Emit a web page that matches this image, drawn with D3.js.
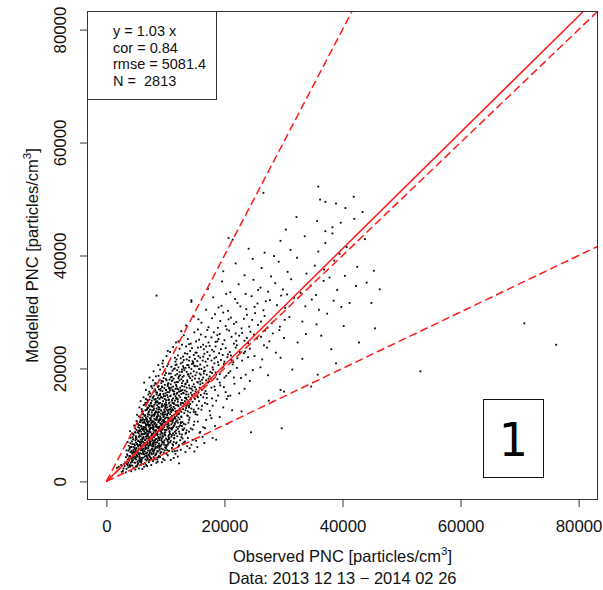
<!DOCTYPE html>
<html>
<head>
<meta charset="utf-8">
<script src="https://cdn.jsdelivr.net/npm/d3@7"></script>
<style>
  html, body { margin: 0; padding: 0; background: #fff; }
  svg { display: block; font-family: 'Liberation Sans', Arial, sans-serif; }
</style>
</head>
<body>
<div id="dataviz_pnc"></div>
<script>

// ━━━━━━━━━━━━━━━━━━━━━━━━━━━━━━━━━━━━━━━━━━━━━━━━━━━━━━━━━━━━━━━━━━━━━━━━━━━━━━
// Data /////////////////////////////////////////////////////////////////////////
// ━━━━━━━━━━━━━━━━━━━━━━━━━━━━━━━━━━━━━━━━━━━━━━━━━━━━━━━━━━━━━━━━━━━━━━━━━━━━━━

const xTicks = [0, 20000, 40000, 60000, 80000];
const yTicks = [0, 20000, 40000, 60000, 80000];

const fitSlope  = 1.03;            // solid line
const refSlopes = [2, 1, 0.5];     // dashed lines (2:1, 1:1, 1:2)

const statLines = ['y = 1.03 x', 'cor = 0.84', 'rmse = 5081.4', 'N =  2813'];
const panelLabel = '1';
const subtitle = 'Data: 2013 12 13 \u2212 2014 02 26';

// [observed, modelled] in thousands of particles/cm3
const points = [
  [2.1,2.6],[2.8,1.9],[3.4,2.2],[3.9,2.9],[4.6,2.4],[5.2,2.8],[3.1,2.7],[4.2,1.8],[5.8,2.9],[6.4,2.6],
  [2.5,2.9],[3.7,2.5],[4.9,2.1],[6.9,2.7],[3.3,1.6],[4.4,2.8],[5.5,2.3],[2.9,2.3],[7.6,2.9],[4.0,2.6],
  [1.8,2.4],[3.6,2.9],[5.1,2.6],[6.1,2.2],[2.6,1.7],

  [3.2,3.4],[3.8,4.1],[4.3,3.6],[4.7,4.4],[5.1,3.9],[5.6,4.7],[6.2,4.2],[6.8,3.7],[7.3,4.5],[4.1,5.2],
  [4.6,5.6],[5.3,5.1],[5.9,5.8],[6.5,5.3],[7.1,5.9],[7.8,5.4],[8.4,4.8],[9.1,4.3],[9.7,5.1],[10.4,4.6],
  [3.5,4.8],[3.9,5.7],[4.4,4.9],[5.0,4.3],[5.4,5.5],[6.0,4.9],[6.6,5.7],[7.0,4.1],[7.6,5.0],[8.1,5.6],
  [3.6,3.9],[4.9,3.3],[5.7,3.5],[6.3,3.1],[7.9,3.6],[8.6,3.9],[9.4,3.4],[10.9,3.8],[11.7,4.9],[12.6,5.6],
  [4.0,4.5],[4.5,3.8],[5.2,4.6],[5.8,4.0],[6.1,5.5],[6.7,4.6],[7.4,5.5],[8.0,4.3],[8.8,5.3],[9.3,5.8],
  [4.8,5.9],[5.5,3.7],[6.4,4.8],[6.9,5.1],[7.2,3.4],[7.7,4.8],[8.3,5.9],[8.9,4.5],[9.9,5.5],[13.4,5.2],
  [3.3,4.3],[4.2,4.0],[4.7,5.1],[5.1,5.9],[5.6,4.1],[6.2,5.2],[6.6,3.9],[7.3,4.9],[8.2,3.9],[10.1,5.9],
  [3.0,3.1],[3.7,3.3],[4.3,5.4],[5.3,4.4],[5.9,3.3],[6.5,4.4],[7.5,4.0],[8.5,5.0],[9.6,4.0],[11.2,5.3],
  [4.1,3.3],[4.6,4.7],[5.0,5.4],[5.7,5.0],[6.0,3.8],[6.8,5.9],[7.1,4.7],[7.8,5.8],[8.7,3.5],[12.1,4.4],
  [3.4,5.5],[4.4,4.2],[5.4,3.2],[6.3,5.8],[6.9,4.3],[7.4,3.8],[8.0,5.2],[9.0,5.6],[10.6,5.4],[14.1,5.9],

  [3.8,6.3],[4.3,7.1],[4.7,6.6],[5.1,7.8],[5.4,6.2],[5.8,7.4],[6.1,8.3],[6.4,6.8],[6.8,7.6],[7.2,8.8],
  [7.5,6.4],[7.9,7.2],[8.2,8.1],[8.6,6.9],[9.0,7.7],[9.4,8.6],[9.8,6.5],[10.3,7.4],[10.8,8.4],[11.4,7.0],
  [4.5,8.4],[5.0,6.9],[5.3,8.7],[5.7,6.5],[6.0,7.1],[6.3,7.9],[6.7,8.6],[7.0,6.7],[7.3,7.8],[7.7,8.4],
  [8.0,6.2],[8.4,7.5],[8.8,8.9],[9.2,6.3],[9.6,7.9],[10.0,8.7],[10.5,6.8],[11.0,7.9],[11.8,8.5],[12.5,7.3],
  [4.1,7.7],[4.9,7.3],[5.5,7.9],[5.9,8.8],[6.2,6.4],[6.6,7.3],[6.9,8.1],[7.4,7.1],[7.8,6.6],[8.1,7.8],
  [8.5,8.5],[8.9,6.7],[9.3,7.3],[9.9,8.2],[10.6,7.7],[11.2,6.6],[12.0,8.0],[13.1,6.9],[13.8,7.7],[15.2,7.2],
  [4.6,6.1],[5.2,6.6],[5.6,8.2],[6.0,6.0],[6.5,8.4],[6.9,7.0],[7.1,6.2],[7.6,8.1],[8.3,6.5],[8.7,7.2],
  [9.1,8.3],[9.5,7.0],[10.2,6.2],[10.9,7.2],[11.6,8.8],[12.3,6.4],[13.5,8.6],[14.4,6.5],[16.3,7.9],[4.0,8.9],
  [5.0,8.0],[5.4,7.2],[5.9,6.7],[6.3,7.6],[6.6,6.3],[7.0,8.4],[7.3,6.9],[7.7,7.6],[8.0,8.7],[8.4,6.1],
  [8.8,7.9],[9.2,8.8],[9.7,6.9],[10.1,7.6],[10.7,8.9],[11.5,7.6],[12.8,8.3],[14.0,8.8],[4.4,6.6],[4.8,8.7],
  [5.3,6.4],[5.7,7.0],[6.1,7.7],[6.4,8.9],[6.8,6.6],[7.2,7.4],[7.5,8.7],[7.9,6.8],[8.2,7.3],[8.6,8.2],
  [9.0,6.4],[9.4,7.6],[9.8,8.4],[10.4,6.5],[11.1,8.2],[11.9,6.9],[12.9,7.6],[3.6,7.0],[4.2,6.1],[15.8,8.6],
  [5.1,7.5],[5.8,8.0],[6.2,7.0],[6.7,7.9],[7.1,8.0],[7.4,6.5],[7.8,7.3],[8.3,8.3],[8.7,6.0],[9.5,8.1],

  [4.9,9.4],[5.3,10.2],[5.7,9.1],[6.0,10.8],[6.4,9.6],[6.7,11.3],[7.1,10.1],[7.4,9.3],[7.8,10.7],[8.1,11.6],
  [8.5,9.8],[8.8,10.5],[9.2,11.2],[9.5,9.2],[9.9,10.0],[10.3,11.7],[10.7,9.5],[11.2,10.4],[11.7,11.1],[12.3,9.7],
  [5.5,11.5],[5.9,9.8],[6.2,11.0],[6.6,10.3],[6.9,9.0],[7.3,11.8],[7.6,10.4],[8.0,9.5],[8.3,10.9],[8.7,11.9],
  [9.0,9.7],[9.4,10.6],[9.7,11.5],[10.1,9.1],[10.5,10.3],[11.0,11.4],[11.5,9.9],[12.0,10.8],[12.7,11.5],[13.4,10.1],
  [5.1,10.7],[5.6,9.5],[6.1,10.4],[6.5,11.7],[6.8,9.9],[7.2,10.6],[7.5,11.2],[7.9,9.2],[8.2,10.2],[8.6,11.3],
  [8.9,9.4],[9.3,10.1],[9.6,10.9],[10.0,11.9],[10.4,9.6],[10.9,10.7],[11.4,11.8],[12.1,9.3],[12.9,10.5],[14.1,11.3],
  [5.4,9.0],[5.8,10.9],[6.3,9.3],[6.7,10.0],[7.0,11.5],[7.4,10.0],[7.7,11.7],[8.0,10.6],[8.4,9.1],[8.8,11.6],
  [9.1,10.3],[9.5,11.8],[9.8,9.6],[10.2,10.5],[10.6,11.2],[11.1,9.2],[11.6,10.2],[12.4,11.0],[13.2,9.4],[14.8,10.0],
  [6.0,9.4],[6.4,10.6],[6.9,11.0],[7.2,9.7],[7.6,9.5],[8.1,11.1],[8.5,10.1],[8.9,10.8],[9.3,9.0],[9.7,10.4],
  [10.1,11.3],[10.6,9.9],[11.3,10.9],[11.9,11.6],[12.6,10.3],[13.7,11.7],[15.5,10.6],[16.4,9.6],[17.8,11.2],[4.7,9.9],
  [5.2,11.8],[5.7,10.5],[6.2,11.9],[6.6,9.2],[7.0,10.4],[7.3,9.1],[7.8,10.0],[8.2,11.9],[8.6,9.6],[9.0,11.0],
  [9.4,9.4],[9.9,11.1],[10.3,10.1],[10.8,11.9],[11.3,9.6],[11.8,10.6],[12.2,11.9],[13.0,9.1],[13.9,10.4],[15.1,11.9],
  [6.1,11.3],[6.8,10.7],[7.5,10.9],[8.3,9.8],[9.1,11.5],[9.8,10.7],[10.5,9.3],[11.0,10.1],[11.6,11.4],[12.8,9.8],
  [16.9,10.9],[19.2,11.4],[18.4,9.8],[14.6,9.2],

  [6.0,12.4],[6.5,13.6],[6.9,12.8],[7.3,14.5],[7.7,12.2],[8.0,13.3],[8.4,14.2],[8.8,12.7],[9.1,13.9],[9.5,14.8],
  [9.9,12.3],[10.3,13.1],[10.7,14.0],[11.1,12.6],[11.5,13.7],[12.0,14.6],[12.5,12.9],[13.1,13.8],[13.8,12.4],[14.6,14.1],
  [6.3,14.9],[6.8,13.9],[7.1,13.0],[7.5,13.8],[7.9,14.9],[8.2,12.1],[8.6,13.5],[9.0,14.6],[9.3,12.5],[9.7,13.4],
  [10.1,14.4],[10.5,12.1],[10.9,13.5],[11.3,14.7],[11.8,12.2],[12.2,13.3],[12.8,14.4],[13.5,13.0],[14.2,12.2],[15.3,13.5],
  [5.6,13.1],[6.2,12.0],[6.7,14.6],[7.2,12.4],[7.6,13.4],[8.1,14.5],[8.5,12.9],[8.9,13.8],[9.2,12.0],[9.6,14.2],
  [10.0,13.0],[10.4,14.9],[10.8,12.8],[11.2,13.9],[11.7,12.4],[12.1,14.1],[12.6,13.6],[13.3,14.8],[14.0,13.4],[16.1,12.7],
  [7.0,14.1],[7.4,12.7],[7.8,13.2],[8.3,13.9],[8.7,14.8],[9.4,13.2],[9.8,12.7],[10.2,13.6],[10.6,14.5],[11.0,12.3],
  [11.4,13.2],[11.9,14.8],[12.4,12.6],[12.9,13.9],[13.6,14.5],[14.4,12.9],[15.0,14.6],[16.7,13.9],[17.5,12.5],[18.6,14.3],
  [6.6,12.6],[7.7,14.3],[8.4,12.4],[9.0,13.1],[9.6,12.2],[10.1,14.0],[10.7,13.3],[11.3,12.6],[11.6,14.3],[12.3,12.0],
  [13.0,12.8],[13.7,13.6],[14.8,12.3],[15.7,14.2],[17.0,14.8],[19.8,13.1],[21.3,12.6],[5.8,14.2],[8.9,12.3],[10.4,12.5],
  [7.3,13.3],[8.0,12.6],[8.6,14.0],[9.2,14.9],[9.9,13.7],[10.6,12.7],[11.1,14.4],[11.8,13.5],[12.7,12.3],[13.9,14.0],
  [14.3,14.8],[15.6,12.9],[18.0,13.4],[20.4,14.6],[16.4,14.9],

  [7.1,15.4],[7.6,16.8],[8.0,15.9],[8.4,17.3],[8.8,15.2],[9.2,16.4],[9.6,17.7],[10.0,15.6],[10.4,16.9],[10.8,15.1],
  [11.2,16.2],[11.6,17.5],[12.0,15.7],[12.5,16.6],[13.0,17.8],[13.5,15.4],[14.1,16.5],[14.8,17.2],[15.6,15.8],[16.5,16.9],
  [7.9,17.9],[8.3,16.1],[8.7,16.7],[9.1,15.5],[9.5,16.0],[9.9,17.1],[10.3,15.3],[10.7,16.4],[11.1,17.8],[11.5,15.9],
  [11.9,16.8],[12.3,15.2],[12.8,17.4],[13.3,16.1],[13.9,15.0],[14.5,17.9],[15.2,16.3],[16.0,15.3],[17.2,17.5],[18.4,16.2],
  [6.7,16.2],[7.4,15.0],[8.1,17.0],[8.6,15.7],[9.3,17.4],[9.8,16.5],[10.2,17.9],[10.6,15.8],[11.0,16.6],[11.4,15.4],
  [11.8,17.1],[12.2,16.3],[12.7,15.5],[13.2,16.8],[13.7,17.6],[14.3,15.7],[15.0,16.7],[15.9,17.7],[17.0,15.5],[19.3,17.0],
  [8.9,16.3],[9.7,15.1],[10.5,17.4],[11.3,16.0],[12.1,17.6],[12.9,16.2],[13.6,15.9],[14.6,16.1],[15.4,15.1],[16.3,17.4],
  [17.8,16.6],[20.2,15.8],[21.7,17.3],[23.4,16.4],[6.4,17.5],[7.8,16.5],[9.0,17.9],[10.1,16.2],[10.9,17.2],[11.7,16.4],
  [12.4,17.9],[13.1,15.6],[14.0,17.0],[14.9,15.5],[15.8,16.6],[16.8,16.0],[18.9,15.2],[22.5,15.6],[24.3,17.8],[12.6,16.0],
  [9.4,16.8],[10.6,16.6],[11.9,15.5],[13.4,17.2],[14.4,16.4],[15.5,17.5],[16.9,17.9],[19.9,16.7],[21.0,15.2],[8.5,15.4],

  [8.4,18.6],[9.1,19.8],[9.7,18.3],[10.3,20.4],[10.9,19.1],[11.4,18.2],[11.9,20.7],[12.4,19.4],[12.9,18.5],[13.4,20.1],
  [13.9,19.0],[14.5,20.8],[15.1,18.8],[15.7,19.9],[16.4,18.4],[17.1,20.5],[17.9,19.2],[18.8,18.1],[19.8,20.3],[21.0,19.5],
  [9.5,20.9],[10.1,19.2],[10.7,18.0],[11.2,19.6],[11.7,18.8],[12.2,20.2],[12.7,18.1],[13.2,19.7],[13.7,20.6],[14.2,18.3],
  [14.8,19.5],[15.4,20.4],[16.0,18.9],[16.7,19.6],[17.5,18.6],[18.3,20.9],[19.2,19.0],[20.3,18.7],[22.1,20.1],[23.6,18.9],
  [8.0,19.5],[8.8,20.6],[10.5,20.8],[11.1,18.5],[11.6,20.0],[12.0,19.0],[12.6,20.9],[13.1,18.7],[13.6,19.4],[14.0,20.2],
  [14.6,18.6],[15.3,19.3],[15.9,20.7],[16.5,19.1],[17.3,18.2],[18.1,19.8],[19.0,20.6],[20.0,18.4],[21.4,20.7],[24.8,19.7],
  [9.9,18.8],[11.0,20.3],[12.3,18.6],[13.0,20.4],[13.8,18.9],[14.4,19.9],[15.0,18.2],[15.8,19.1],[16.6,20.2],[17.6,19.4],
  [18.6,18.9],[19.5,20.0],[20.7,19.2],[22.8,18.3],[26.1,20.2],[27.4,18.8],[7.3,18.4],[12.8,19.8],[14.9,20.5],[16.2,18.0],

  [9.6,21.4],[10.8,22.9],[11.7,21.2],[12.4,23.5],[13.0,22.1],[13.6,21.6],[14.2,23.1],[14.8,22.4],[15.4,21.3],[16.0,23.8],
  [16.6,22.6],[17.2,21.7],[17.9,23.3],[18.6,22.0],[19.4,21.5],[20.2,23.6],[21.1,22.3],[22.2,21.8],[23.5,23.0],[25.1,22.2],
  [11.3,23.8],[12.1,22.3],[12.9,21.1],[13.5,23.9],[14.1,22.0],[14.7,21.1],[15.3,22.8],[15.9,21.9],[16.5,23.4],[17.1,22.9],
  [17.8,21.4],[18.5,23.9],[19.1,22.7],[20.0,21.2],[20.9,22.9],[21.9,23.7],[23.0,21.4],[24.3,23.5],[26.4,21.6],[28.7,22.8],
  [10.2,22.2],[13.3,22.7],[14.5,23.6],[15.6,22.2],[16.3,21.4],[17.5,22.3],[18.2,23.0],[19.7,22.4],[21.5,21.1],[22.6,22.9],
  [12.6,21.8],[15.0,21.7],[16.9,23.9],[18.9,21.1],[20.5,22.0],[24.0,22.0],[27.2,23.7],[29.5,21.9],[11.9,21.6],[14.0,21.4],

  [11.8,24.6],[13.1,25.9],[14.0,24.3],[14.9,26.4],[15.7,25.1],[16.4,24.2],[17.1,26.8],[17.8,25.5],[18.5,24.7],[19.2,26.1],
  [20.0,25.0],[20.8,26.7],[21.6,24.4],[22.5,25.8],[23.4,24.9],[24.4,26.5],[25.5,25.3],[26.7,24.1],[28.2,26.2],[30.1,25.4],
  [12.7,26.6],[13.8,25.2],[15.2,24.8],[16.0,26.0],[16.8,25.6],[17.5,24.0],[18.2,26.4],[19.0,25.2],[19.7,24.3],[20.4,26.9],
  [21.2,25.6],[22.0,24.9],[23.0,26.3],[24.0,24.5],[25.0,26.0],[26.2,25.6],[27.6,24.8],[29.3,26.8],[32.4,24.6],[33.8,26.1],
  [15.5,26.9],[18.8,25.9],[21.9,26.2],[23.8,25.4],[26.9,26.7],

  [13.5,27.6],[14.8,29.2],[16.1,28.1],[17.3,27.3],[18.4,29.6],[19.3,28.4],[20.2,27.5],[21.1,29.0],[22.0,28.2],[22.9,27.1],
  [23.8,29.5],[24.7,28.6],[25.7,27.7],[26.8,29.3],[28.0,28.0],[29.4,27.4],[31.0,29.1],[33.2,28.3],[35.6,27.8],[37.4,29.7],
  [15.6,28.7],[17.9,28.9],[19.8,29.9],[21.6,27.9],[23.3,28.8],[25.2,29.8],[27.3,27.2],[30.2,28.6],[20.7,28.7],[24.2,27.4],
  [18.9,27.2],[26.2,28.3],

  [14.4,31.8],[16.9,30.4],[18.1,32.6],[19.5,31.1],[20.6,30.2],[21.8,32.3],[22.7,31.0],[23.7,30.5],[24.6,32.8],[25.6,31.5],
  [26.6,30.3],[27.7,32.1],[28.9,31.2],[30.3,30.7],[31.8,32.5],[33.7,31.0],[36.0,30.4],[38.5,32.0],[41.2,31.6],[19.0,30.8],
  [22.2,31.6],[25.1,30.9],[29.6,32.9],[34.8,32.2],[39.8,30.9],[27.0,31.9],[8.5,32.9],[14.4,32.1],

  [17.2,34.1],[19.6,35.4],[21.0,33.5],[22.4,34.9],[23.6,33.2],[24.9,35.7],[26.1,34.3],[27.4,33.6],[28.6,35.1],[29.9,34.0],
  [31.3,35.8],[32.9,33.4],[34.6,34.7],[36.8,35.5],[39.1,33.9],[42.3,34.6],[44.1,35.2],[20.3,33.2],[25.7,33.9],[30.6,33.1],
  [35.5,33.0],

  [19.8,37.2],[21.9,38.6],[23.4,36.5],[24.8,39.4],[26.3,37.8],[27.9,36.3],[29.2,38.9],[30.7,37.1],[32.3,39.6],[33.9,36.8],
  [35.3,38.2],[36.9,37.5],[38.6,39.1],[40.4,36.4],[42.5,38.0],[45.3,37.3],[28.4,39.9],[37.8,36.1],

  [20.7,43.1],[21.4,42.8],[24.1,41.2],[26.8,40.5],[29.5,42.6],[31.2,41.0],[33.6,43.4],[35.9,40.7],[37.1,42.2],[38.3,43.9],
  [40.7,41.5],[43.8,42.9],[39.5,40.3],

  [26.6,51.1],[35.9,52.2],[36.2,49.9],[37.1,49.5],[38.9,49.2],[41.9,50.4],[43.4,47.7],[35.7,46.1],[37.1,44.3],[38.3,45.0],
  [39.7,45.8],[32.2,46.8],[42.0,46.5],[30.4,44.6],[40.5,48.4],

  [29.7,9.4],[24.5,8.7],[18.0,7.7],[18.6,7.4],[34.7,16.8],[35.8,18.9],[38.9,20.9],[29.5,16.2],[30.1,15.9],[27.5,14.3],
  [53.2,19.5],[70.8,28.0],[76.2,24.2],[46.3,34.0],[44.9,31.6],[45.5,27.1],[42.8,24.6],[40.2,27.5],[38.1,23.4],[33.2,21.7],
  [31.5,19.8],[36.4,25.8],[22.9,12.4],[20.5,10.2],[16.6,6.8],[14.9,5.3],[12.3,3.2],

  // denser core
  [3.45,3.12],[4.15,2.83],[4.72,3.36],[5.33,3.05],[5.94,3.58],[6.57,3.27],[7.26,3.74],[3.82,3.67],[4.58,4.21],[5.07,4.68],
  [5.66,4.32],[6.28,4.86],[6.84,4.47],[7.55,4.13],[8.27,4.62],[9.13,4.95],[3.58,4.58],[4.86,4.03],[5.48,4.92],[6.02,4.18],
  [6.72,4.98],[7.38,4.34],[7.98,4.91],[8.74,4.26],[10.2,4.88],[4.34,3.44],[5.72,3.83],[6.96,3.92],[8.46,3.31],[9.86,3.76],
  [4.97,2.64],[6.74,2.91],[11.4,4.15],[3.93,4.47],[5.26,3.49],

  [3.75,5.44],[4.22,6.13],[4.68,5.27],[5.14,6.62],[5.53,5.81],[5.97,7.04],[6.39,5.36],[6.83,6.47],[7.24,7.38],[7.67,5.72],
  [8.06,6.84],[8.52,7.51],[8.94,5.96],[9.37,6.58],[9.83,7.27],[10.3,5.53],[10.8,6.92],[11.5,7.68],[12.2,6.16],[13.3,7.05],
  [4.07,6.77],[4.53,7.46],[4.96,5.63],[5.41,7.14],[5.82,6.28],[6.24,7.72],[6.61,6.04],[7.05,5.47],[7.43,6.73],[7.86,7.92],
  [8.31,5.84],[8.73,6.29],[9.16,7.83],[9.58,5.68],[10.1,6.41],[10.6,7.49],[11.1,5.92],[11.8,6.74],[12.7,7.84],[14.6,7.36],
  [4.38,5.09],[4.83,6.38],[5.27,5.16],[5.69,6.93],[6.13,5.68],[6.52,7.29],[6.94,6.81],[7.35,5.21],[7.76,6.22],[8.18,7.17],
  [8.61,5.37],[9.04,6.14],[9.47,7.01],[9.95,6.03],[10.5,7.97],[11.3,6.38],[12.0,5.44],[13.7,6.25],[5.03,7.68],[6.46,6.52],
  [7.11,7.62],[7.92,6.48],[8.39,6.87],[8.83,7.66],[9.26,5.22],[9.72,6.86],[10.4,7.13],[11.6,5.36],[12.9,6.63],[15.4,6.09],
  [5.58,6.46],[6.08,7.41],[6.76,5.83],[7.52,7.06],[8.12,5.59],[8.97,7.33],[3.97,5.96],[4.44,7.87],[5.86,5.52],[7.19,6.35],

  [4.62,8.24],[5.08,9.13],[5.47,8.56],[5.86,9.87],[6.27,8.43],[6.66,9.58],[7.04,10.6],[7.43,8.72],[7.84,9.46],[8.23,10.4],
  [8.66,8.36],[9.03,9.29],[9.44,10.2],[9.87,8.64],[10.3,9.73],[10.8,10.8],[11.3,8.53],[11.9,9.62],[12.6,10.5],[13.6,9.04],
  [5.25,10.3],[5.64,8.91],[6.03,9.34],[6.46,10.9],[6.84,8.14],[7.22,9.92],[7.63,10.3],[8.04,8.37],[8.45,9.65],[8.86,10.7],
  [9.25,8.94],[9.66,9.81],[10.1,10.5],[10.6,8.23],[11.1,9.46],[11.6,10.3],[12.3,8.82],[13.1,10.2],[14.3,9.37],[15.9,8.76],
  [4.93,8.66],[5.37,9.62],[5.78,10.7],[6.17,9.11],[6.56,8.62],[6.95,10.1],[7.34,9.21],[7.73,8.33],[8.14,9.04],[8.54,10.9],
  [8.95,9.68],[9.36,8.47],[9.76,10.6],[10.2,9.17],[10.7,8.71],[11.2,10.7],[11.8,9.04],[12.5,9.93],[13.4,8.46],[14.9,10.6],
  [5.96,8.38],[6.35,10.4],[6.75,9.27],[7.13,8.49],[7.52,10.8],[7.93,9.77],[8.35,8.83],[8.76,9.42],[9.15,10.9],[9.56,9.33],
  [9.98,8.16],[10.4,10.2],[10.9,9.38],[11.5,8.18],[12.1,10.4],[12.9,9.21],[14.0,10.9],[16.7,9.43],[5.52,9.97],[7.81,10.5],
  [6.24,9.66],[6.91,8.85],[7.47,9.53],[8.11,10.2],[8.63,8.57],[9.32,9.96],[9.91,9.11],[10.5,10.9],[11.4,9.85],[12.4,8.44],

  [5.74,11.3],[6.16,12.4],[6.58,11.7],[6.97,13.1],[7.36,11.2],[7.75,12.6],[8.16,13.6],[8.56,11.5],[8.97,12.8],[9.38,13.4],
  [9.78,11.8],[10.2,12.7],[10.6,13.8],[11.1,11.6],[11.6,12.9],[12.1,13.5],[12.7,11.4],[13.4,12.6],[14.2,13.7],[15.4,11.8],
  [6.34,13.5],[6.73,11.1],[7.14,12.2],[7.55,13.9],[7.96,11.8],[8.37,12.3],[8.78,13.2],[9.17,11.1],[9.58,12.1],[9.99,13.2],
  [10.4,11.3],[10.9,12.4],[11.4,13.9],[11.9,11.9],[12.4,12.8],[13.0,13.3],[13.8,11.6],[14.8,12.7],[16.2,13.4],[17.6,11.7],
  [5.97,12.8],[6.45,11.6],[6.86,12.7],[7.27,13.5],[7.66,11.5],[8.06,12.9],[8.47,11.2],[8.88,13.8],[9.27,12.6],[9.68,11.4],
  [10.1,13.5],[10.5,12.2],[11.0,13.1],[11.5,11.2],[12.0,12.5],[12.6,13.9],[13.2,12.1],[14.0,13.1],[15.1,12.3],[17.1,13.7],
  [7.05,11.9],[7.84,13.3],[8.64,12.2],[9.44,13.7],[10.3,11.9],[11.2,12.8],[12.2,11.3],[13.6,13.4],[6.62,13.9],[9.86,12.4],

  [6.94,14.4],[7.42,15.6],[7.83,14.8],[8.24,16.3],[8.65,14.2],[9.06,15.3],[9.47,16.7],[9.88,14.6],[10.3,15.8],[10.7,16.5],
  [11.1,14.3],[11.5,15.5],[12.0,16.4],[12.5,14.9],[13.0,15.7],[13.6,16.6],[14.3,14.5],[15.1,15.9],[16.2,16.2],[17.9,14.7],
  [7.63,16.9],[8.04,15.1],[8.45,15.8],[8.86,16.9],[9.27,14.9],[9.68,15.5],[10.1,16.2],[10.5,14.4],[10.9,15.2],[11.3,16.8],
  [11.8,14.7],[12.3,15.9],[12.8,16.9],[13.3,14.2],[13.9,15.4],[14.6,16.8],[15.5,14.9],[16.6,15.6],[18.3,16.8],[20.6,15.1],
  [8.35,14.6],[9.16,16.1],[9.96,15.1],[10.8,16.1],[11.7,15.1],[12.6,16.1],[13.5,14.8],[14.5,15.3],[7.26,15.9],[12.1,14.5],

  [8.27,17.4],[8.84,18.7],[9.36,17.8],[9.88,19.6],[10.4,17.2],[10.9,18.4],[11.4,19.9],[11.9,17.6],[12.5,18.8],[13.1,20.1],
  [13.7,17.9],[14.3,19.1],[15.0,20.4],[15.7,18.2],[16.5,19.5],[17.4,17.7],[18.5,19.3],[19.9,20.8],[9.63,20.3],[10.6,19.1],
  [11.2,17.9],[11.7,20.6],[12.2,18.3],[12.8,19.4],[13.4,17.3],[14.0,18.6],[14.7,20.9],[15.4,17.6],[16.1,19.9],[17.0,18.9],
  [18.0,20.2],[19.2,17.5],[21.6,18.4],[10.1,18.1],[12.0,19.7],[13.9,20.6],[15.9,17.2],[17.7,18.2],

  [10.4,23.1],[11.6,21.9],[12.8,24.2],[13.7,22.6],[14.6,21.3],[15.5,23.7],[16.4,22.1],[17.3,24.6],[18.3,21.8],[19.4,23.4],
  [20.6,22.5],[22.1,24.1],[12.2,24.8],[14.3,24.4],[16.8,21.2],[18.8,24.8],[21.2,21.5],[23.3,22.7],[13.1,21.5],[15.1,22.8]
];

// ━━━━━━━━━━━━━━━━━━━━━━━━━━━━━━━━━━━━━━━━━━━━━━━━━━━━━━━━━━━━━━━━━━━━━━━━━━━━━━
// SVG setup ////////////////////////////////////////////////////////////////////
// ━━━━━━━━━━━━━━━━━━━━━━━━━━━━━━━━━━━━━━━━━━━━━━━━━━━━━━━━━━━━━━━━━━━━━━━━━━━━━━

const width = 603, height = 590;
const plot = { left: 87.5, right: 597.5, top: 11.5, bottom: 499.5 };

const svg = d3.select('#dataviz_pnc').append('svg')
  .attr('viewBox', [0, 0, width, height])
  .attr('width', width)
  .attr('height', height);

// R style 4% padding round 0..80000
const xMax = 83200;
const x = d3.scaleLinear().domain([-3200, xMax]).range([plot.left, plot.right]);
const y = d3.scaleLinear().domain([-3200, xMax]).range([plot.bottom, plot.top]);

const dots   = svg.append('g').attr('id', 'dots');
const lines  = svg.append('g').attr('id', 'lines');
const frame  = svg.append('g').attr('id', 'frame');
const legend = svg.append('g').attr('id', 'legend');

// Points ////////////////////////////////////////////////////////////////////////

dots.selectAll('rect')
  .data(points)
  .join('rect')
  .attr('x', d => x(d[0] * 1000) - 0.9)
  .attr('y', d => y(d[1] * 1000) - 0.9)
  .attr('width', 1.8)
  .attr('height', 1.8)
  .attr('fill', '#000');

// Lines from origin, stopped at the plot edge ////////////////////////////////////
// (1px strokes near 45 degrees came out dark in the photo, so a touch wider)

const rayEnd = s => Math.min(xMax, xMax / s);

lines.selectAll('line')
  .data(refSlopes.map(s => ({ s, dash: true })).concat([{ s: fitSlope, dash: false }]))
  .join('line')
  .attr('x1', x(0)).attr('y1', y(0))
  .attr('x2', d => x(rayEnd(d.s)))
  .attr('y2', d => y(rayEnd(d.s) * d.s))
  .attr('stroke', '#ff1a1a')
  .attr('stroke-width', 1.5)
  .attr('stroke-dasharray', d => d.dash ? '8,4' : null);

// Axes ////////////////////////////////////////////////////////////////////////////

const xAxis = frame.append('g')
  .attr('transform', `translate(0,${plot.bottom})`)
  .call(d3.axisBottom(x).tickValues(xTicks).tickSize(7.5).tickFormat(d3.format('d')));

const yAxis = frame.append('g')
  .attr('transform', `translate(${plot.left},0)`)
  .call(d3.axisLeft(y).tickValues(yTicks).tickSize(7.5).tickFormat(d3.format('d')));

[xAxis, yAxis].forEach(a => {
  a.select('.domain').remove();
  a.selectAll('.tick line').attr('stroke', '#333');
  a.selectAll('.tick text')
    .attr('font-family', "'Liberation Sans', Arial, sans-serif")
    .attr('font-size', 16.8)
    .attr('fill', '#111');
});

xAxis.selectAll('.tick text').attr('y', 32.5).attr('dy', 0);
yAxis.selectAll('.tick text')
  .attr('transform', 'rotate(-90)')
  .attr('x', 0).attr('y', -21.5).attr('dy', 0)
  .attr('text-anchor', 'middle');

frame.append('rect')
  .attr('x', plot.left).attr('y', plot.top)
  .attr('width', plot.right - plot.left).attr('height', plot.bottom - plot.top)
  .attr('fill', 'none')
  .attr('stroke', '#333');

// Axis titles ///////////////////////////////////////////////////////////////////

const cx = (plot.left + plot.right) / 2;
const cy = (plot.top + plot.bottom) / 2;

const xTitle = svg.append('text')
  .attr('x', cx).attr('y', 562)
  .attr('text-anchor', 'middle')
  .attr('font-size', 16.5).attr('fill', '#111');
xTitle.append('tspan').text('Observed PNC [particles/cm');
xTitle.append('tspan').attr('dy', -7).attr('font-size', 11.5).text('3');
xTitle.append('tspan').attr('dy', 7).text(']');

const yTitle = svg.append('text')
  .attr('transform', `translate(38,${cy}) rotate(-90)`)
  .attr('text-anchor', 'middle')
  .attr('font-size', 16.5).attr('fill', '#111');
yTitle.append('tspan').text('Modelled PNC [particles/cm');
yTitle.append('tspan').attr('dy', -7).attr('font-size', 11.5).text('3');
yTitle.append('tspan').attr('dy', 7).text(']');

svg.append('text')
  .attr('x', cx).attr('y', 584)
  .attr('text-anchor', 'middle')
  .attr('font-size', 16.5).attr('fill', '#111')
  .text(subtitle);

// Stats box ///////////////////////////////////////////////////////////////////////

legend.append('rect')
  .attr('x', plot.left).attr('y', plot.top)
  .attr('width', 129).attr('height', 88)
  .attr('fill', '#fff')
  .attr('stroke', '#333');

legend.selectAll('text')
  .data(statLines)
  .join('text')
  .attr('x', 113)
  .attr('y', (d, i) => 36 + i * 16.5)
  .attr('font-size', 14.5)
  .attr('fill', '#111')
  .style('white-space', 'pre')
  .text(d => d);

// Panel number //////////////////////////////////////////////////////////////////

svg.append('rect')
  .attr('x', 483.5).attr('y', 399.5)
  .attr('width', 60).attr('height', 78)
  .attr('fill', '#fff')
  .attr('stroke', '#111');

svg.append('text')
  .attr('x', 513.5).attr('y', 456)
  .attr('text-anchor', 'middle')
  .attr('font-family', "'DejaVu Sans', sans-serif")
  .attr('font-size', 46)
  .attr('fill', '#000')
  .text(panelLabel);

</script>
</body>
</html>
